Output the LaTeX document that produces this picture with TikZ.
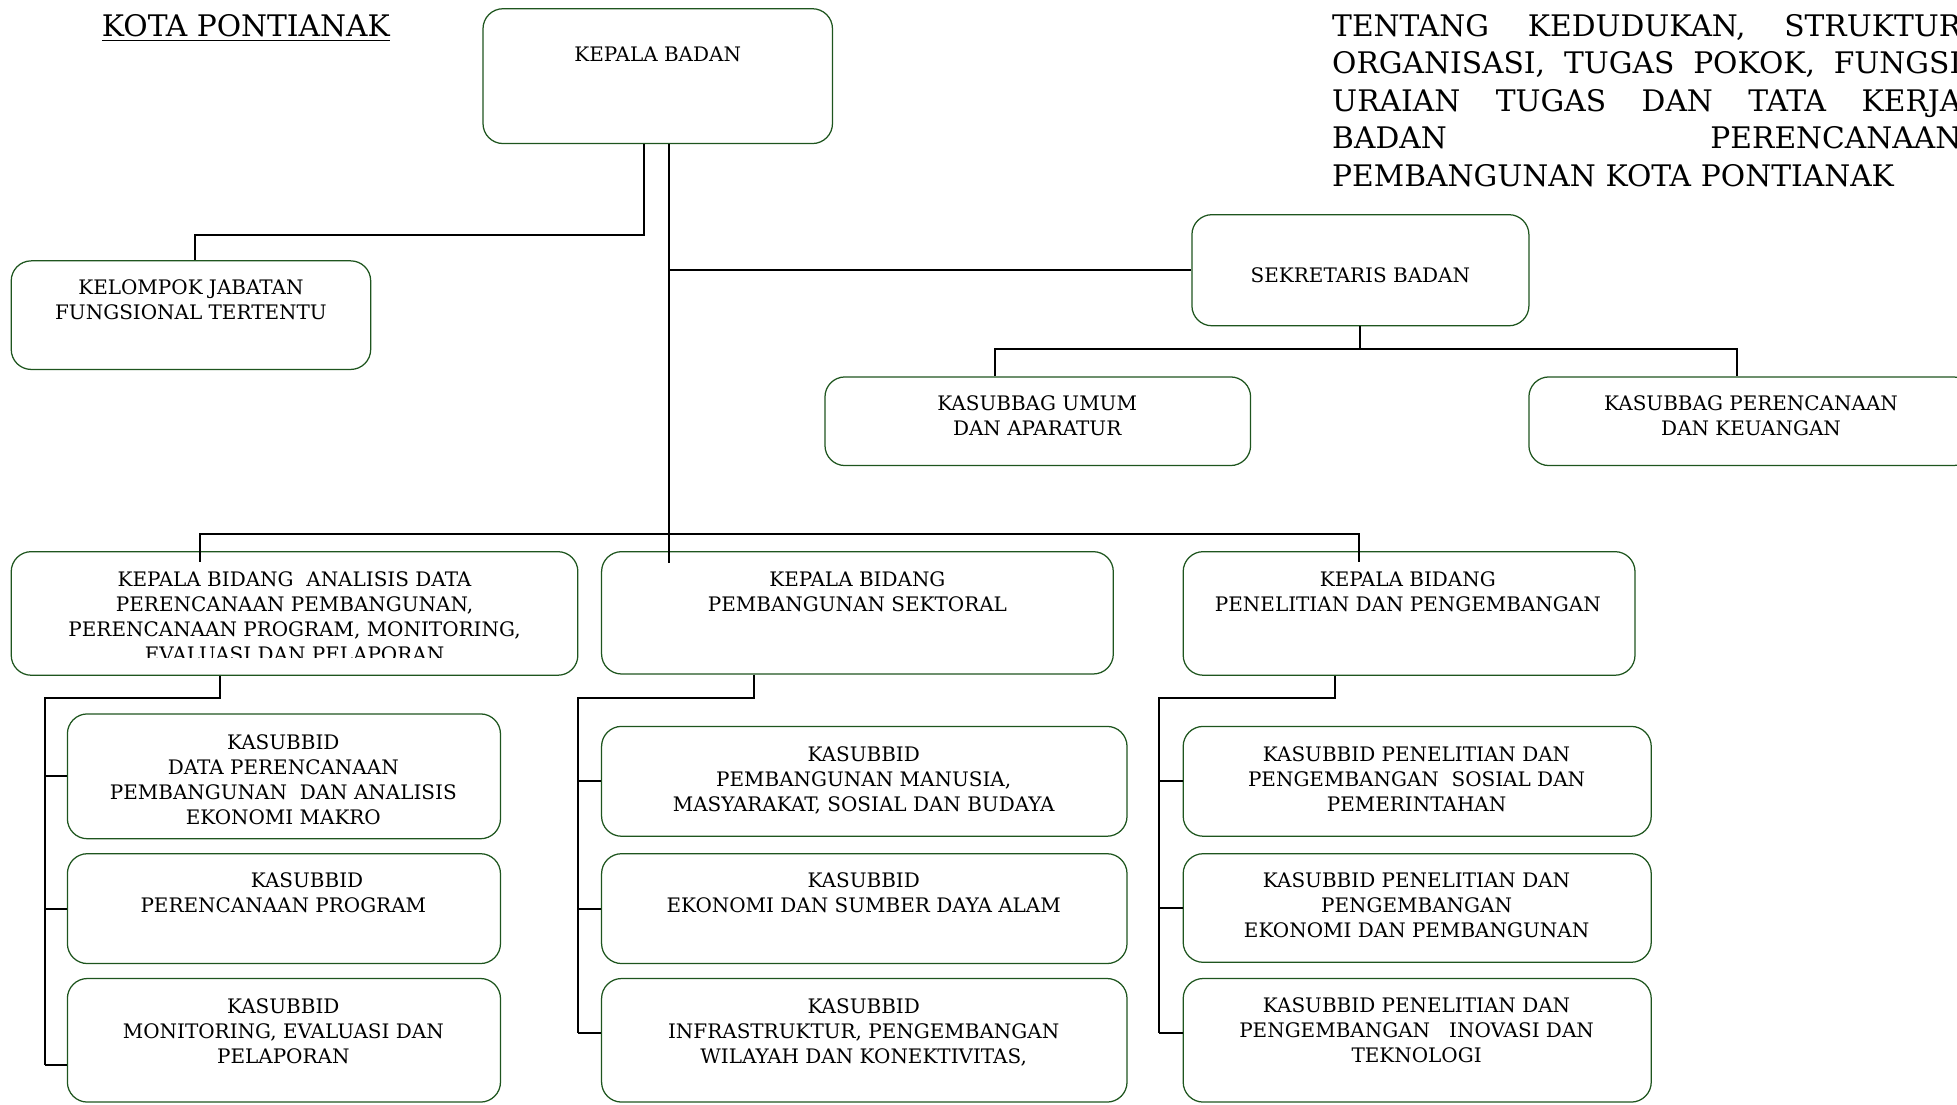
\documentclass[tikz,border=0pt]{standalone}
\usepackage{fontspec}
\setmainfont{DejaVu Serif}
\usetikzlibrary{fit}
\definecolor{boxgreen}{RGB}{30,85,30}
\begin{document}
\begin{tikzpicture}[x=0.5pt,y=-0.5pt,
  obox/.style={draw=boxgreen, line width=0.5pt, rounded corners=8pt, inner sep=0pt},
  txt/.style={font=\fontsize{8.0}{10}\selectfont, align=center, inner sep=0pt, anchor=north},
  conn/.style={draw=black, line width=0.8pt},
  hdr/.style={font=\fontsize{11.9}{15}\selectfont, inner sep=0pt}]
\useasboundingbox (0,0) rectangle (1568,885);
\clip (0,0) rectangle (1568,885);

% header texts
\node[hdr, anchor=north] (kota) at (197,11) {\underline{KOTA PONTIANAK}};
\node[hdr, anchor=north west, text width=252pt, align=left] (judul) at (1067,11)
 {\makebox[252pt]{TENTANG\hfill KEDUDUKAN,\hfill STRUKTUR}\\
  \makebox[252pt]{ORGANISASI,\hfill TUGAS\hfill POKOK,\hfill FUNGSI}\\
  \makebox[252pt]{URAIAN\hfill TUGAS\hfill DAN\hfill TATA\hfill KERJA}\\
  \makebox[252pt]{BADAN\hfill PERENCANAAN}\\
  PEMBANGUNAN KOTA PONTIANAK};

% boxes
\node[obox, fit={(387,7) (667,115)}] (kb) {};
\node[obox, fit={(9,209) (297,296)}] (kf) {};
\node[obox, fit={(955,172) (1225,261)}] (sb) {};
\node[obox, fit={(661,302) (1002,373)}] (su) {};
\node[obox, fit={(1225,302) (1581,373)}] (sk) {};
\node[obox, fit={(9,442) (463,541)}] (b1) {};
\node[obox, fit={(482,442) (892,540)}] (b2) {};
\node[obox, fit={(948,442) (1310,541)}] (b3) {};
\node[obox, fit={(54,572) (401,672)}] (s11) {};
\node[obox, fit={(54,684) (401,772)}] (s12) {};
\node[obox, fit={(54,784) (401,883)}] (s13) {};
\node[obox, fit={(482,582) (903,670)}] (s21) {};
\node[obox, fit={(482,684) (903,772)}] (s22) {};
\node[obox, fit={(482,784) (903,883)}] (s23) {};
\node[obox, fit={(948,582) (1323,670)}] (s31) {};
\node[obox, fit={(948,684) (1323,771)}] (s32) {};
\node[obox, fit={(948,784) (1323,883)}] (s33) {};

% box texts
\node[txt] (kbt) at (527,37) {KEPALA BADAN};
\node[txt] (kft) at (153,224) {KELOMPOK JABATAN\\FUNGSIONAL TERTENTU};
\node[txt] (sbt) at (1090,214) {SEKRETARIS BADAN};
\node[txt] (sut) at (831,317) {KASUBBAG UMUM\\DAN APARATUR};
\node[txt] (skt) at (1403,317) {KASUBBAG PERENCANAAN\\DAN KEUANGAN};
\begin{scope}
\clip (9,442) rectangle (463,527);
\node[txt] (b1t) at (236,458) {KEPALA BIDANG\ \ ANALISIS DATA\\PERENCANAAN PEMBANGUNAN,\\PERENCANAAN PROGRAM, MONITORING,\\EVALUASI DAN PELAPORAN};
\end{scope}
\node[txt] (b2t) at (687,458) {KEPALA BIDANG\\PEMBANGUNAN SEKTORAL};
\node[txt] (b3t) at (1128,458) {KEPALA BIDANG\\PENELITIAN DAN PENGEMBANGAN};
\node[txt] (s11t) at (227,588) {KASUBBID\\DATA PERENCANAAN\\PEMBANGUNAN\ \ DAN ANALISIS\\EKONOMI MAKRO};
\node[txt] (s12t) at (227,699) {\hspace*{19pt}KASUBBID\\PERENCANAAN PROGRAM};
\node[txt] (s13t) at (227,800) {KASUBBID\\MONITORING, EVALUASI DAN\\PELAPORAN};
\node[txt] (s21t) at (692,598) {KASUBBID\\PEMBANGUNAN MANUSIA,\\MASYARAKAT, SOSIAL DAN BUDAYA};
\node[txt] (s22t) at (692,699) {KASUBBID\\EKONOMI DAN SUMBER DAYA ALAM};
\node[txt] (s23t) at (692,800) {KASUBBID\\INFRASTRUKTUR, PENGEMBANGAN\\WILAYAH DAN KONEKTIVITAS,};
\node[txt] (s31t) at (1135,598) {KASUBBID PENELITIAN DAN\\PENGEMBANGAN\ \ SOSIAL DAN\\PEMERINTAHAN};
\node[txt] (s32t) at (1135,699) {KASUBBID PENELITIAN DAN\\PENGEMBANGAN\\EKONOMI DAN PEMBANGUNAN};
\node[txt] (s33t) at (1135,799) {KASUBBID PENELITIAN DAN\\PENGEMBANGAN\ \ \ INOVASI DAN\\TEKNOLOGI};

% connectors
\coordinate (kfj) at (516,188);
\draw[conn] (516,0 |- kb.south) -- (kfj) -| (156,0 |- kf.north);
\coordinate (mainend) at (536,451);
\draw[conn] (536,0 |- kb.south) -- (mainend);
\draw[conn] (536,0 |- sb.west) -- (sb.west);
\coordinate (sbj) at (1090,280);
\draw[conn] (sb.south) -- (sbj);
\draw[conn] (797,0 |- su.north) |- (sbj) -| (1392,0 |- sk.north);
\coordinate (busl) at (160,428);
\coordinate (busr) at (1089,428);
\draw[conn] (160,450) -- (busl) -- (busr) -- (1089,450);

% column 1
\coordinate (c1) at (36,559);
\draw[conn] (176,0 |- b1.south) |- (c1) -- (36,853);
\draw[conn] (36,0 |- s11.west) -- (s11.west);
\draw[conn] (36,0 |- s12.west) -- (s12.west);
\draw[conn] (36,853) -- (s13.west |- 0,853);
% column 2
\coordinate (c2) at (463,559);
\draw[conn] (604,0 |- b2.south) |- (c2) -- (463,828);
\draw[conn] (463,0 |- s21.west) -- (s21.west);
\draw[conn] (463,0 |- s22.west) -- (s22.west);
\draw[conn] (463,828) -- (s23.west |- 0,828);
% column 3
\coordinate (c3) at (929,559);
\draw[conn] (1070,0 |- b3.south) |- (c3) -- (929,828);
\draw[conn] (929,0 |- s31.west) -- (s31.west);
\draw[conn] (929,0 |- s32.west) -- (s32.west);
\draw[conn] (929,828) -- (s33.west |- 0,828);
\end{tikzpicture}
\end{document}
